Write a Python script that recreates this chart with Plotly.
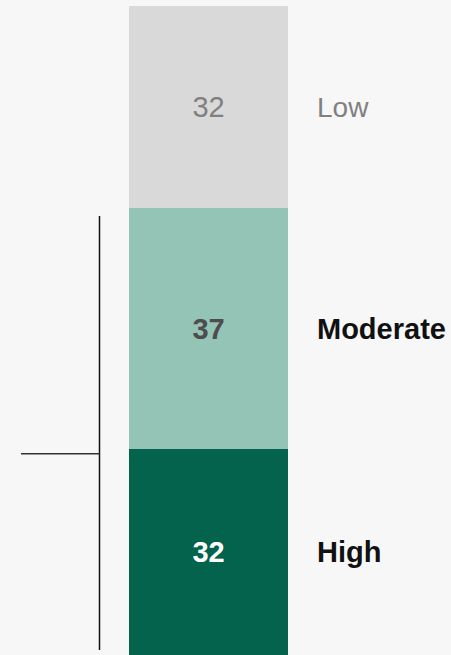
import plotly.graph_objects as go

# bottom to top
levels = ["High", "Moderate", "Low"]
values = [32.0, 37.4, 31.4]
value_labels = ["32", "37", "32"]
bar_colors = ["#03634c", "#93c4b6", "#d9d9d9"]
text_colors = ["#ffffff", "#4d4d4d", "#808080"]
label_colors = ["#111111", "#111111", "#808080"]
label_bold = [True, True, False]

BG = "#f7f7f7"
FONT = "Arial, Liberation Sans, sans-serif"
W, H = 451, 655
total = sum(values)

fig = go.Figure()
for lvl, v, lab, bc, tc, bold in zip(levels, values, value_labels, bar_colors, text_colors, label_bold):
    fig.add_trace(go.Bar(
        x=[0], y=[v], name=lvl, width=1,
        marker=dict(color=bc, line=dict(width=0)),
        text=[f"<b>{lab}</b>" if bold else lab],
        textposition="inside", insidetextanchor="middle",
        textfont=dict(color=tc, size=29, family=FONT),
        constraintext="none",
        hoverinfo="skip",
    ))

# level names to the right of the bar
cum = 0
for lvl, v, lc, bold in zip(levels, values, label_colors, label_bold):
    fig.add_annotation(
        x=0.67, y=cum + v / 2, xref="x", yref="y",
        text=f"<b>{lvl}</b>" if bold else lvl,
        showarrow=False, xanchor="left", yanchor="middle",
        font=dict(color=lc, size=28 if not bold else 29, family=FONT),
    )
    cum += v

# bracket on the left
def py(p):
    return 1 - p / H

fig.add_shape(type="line", xref="paper", yref="paper",
              x0=99.5 / W, x1=99.5 / W, y0=py(212), y1=py(650),
              line=dict(color="#111111", width=1.5))
fig.add_shape(type="line", xref="paper", yref="paper",
              x0=21 / W, x1=99.5 / W, y0=py(452), y1=py(452),
              line=dict(color="#333333", width=1.5))

fig.update_layout(
    barmode="stack",
    width=W, height=H,
    margin=dict(l=0, r=0, t=6, b=0),
    paper_bgcolor=BG, plot_bgcolor=BG,
    showlegend=False,
    bargap=0,
    xaxis=dict(range=[-1.311, 1.525], visible=False, fixedrange=True),
    yaxis=dict(range=[0, total], visible=False, fixedrange=True),
)

fig.write_html(
    "out.html",
    config={"displayModeBar": False},
    post_script="document.body.style.margin='0';document.body.style.overflow='hidden';",
)
